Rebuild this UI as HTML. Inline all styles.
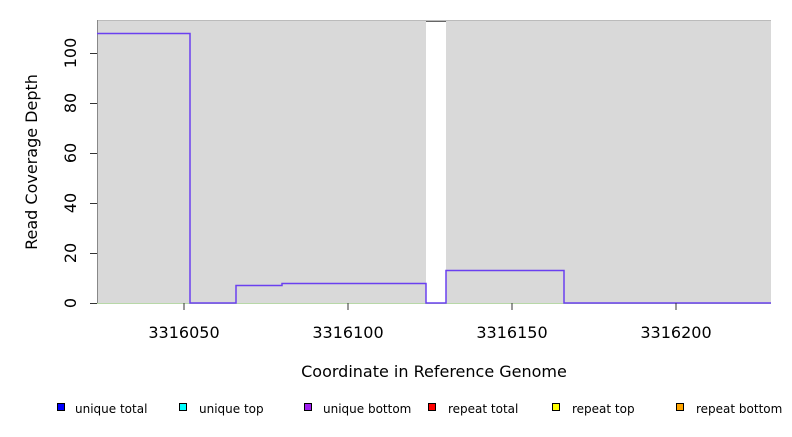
<!DOCTYPE html><html><head><style>body{margin:0;background:#fff}</style></head><body>
<svg width="792" height="432" xmlns="http://www.w3.org/2000/svg" font-family="DejaVu Sans, Liberation Sans, sans-serif">
<rect x="97" y="20" width="674" height="283" fill="#d9d9d9"/>
<rect x="426" y="20" width="20" height="283" fill="#fff"/>
<line x1="97" y1="20.5" x2="771" y2="20.5" stroke="#bbb"/>
<line x1="426" y1="21.5" x2="446" y2="21.5" stroke="#666"/>
<line x1="97.5" y1="20" x2="97.5" y2="303" stroke="#888"/>
<line x1="97" y1="303.5" x2="771" y2="303.5" stroke="#b8d8a8"/>
<polyline fill="none" stroke="#6a40f0" stroke-width="1.5" points="97,33.5 190,33.5 190,303 236,303 236,285.5 282,285.5 282,283.5 426,283.5 426,303 446,303 446,270.5 564,270.5 564,303 771,303"/>
<g stroke="#333">
<line x1="184" y1="303" x2="184" y2="310"/><line x1="348" y1="303" x2="348" y2="310"/><line x1="512" y1="303" x2="512" y2="310"/><line x1="676" y1="303" x2="676" y2="310"/>
<line x1="90" y1="303.5" x2="97" y2="303.5"/><line x1="90" y1="253.5" x2="97" y2="253.5"/><line x1="90" y1="203.5" x2="97" y2="203.5"/><line x1="90" y1="153.5" x2="97" y2="153.5"/><line x1="90" y1="103.5" x2="97" y2="103.5"/><line x1="90" y1="53.5" x2="97" y2="53.5"/>
</g>
<g font-size="16" text-anchor="middle" fill="#000">
<text x="184" y="338">3316050</text><text x="348" y="338">3316100</text><text x="512" y="338">3316150</text><text x="676" y="338">3316200</text>
<g transform="translate(76,0)"><text transform="translate(0,303) rotate(-90)">0</text><text transform="translate(0,253) rotate(-90)">20</text><text transform="translate(0,203) rotate(-90)">40</text><text transform="translate(0,153) rotate(-90)">60</text><text transform="translate(0,103) rotate(-90)">80</text><text transform="translate(0,53) rotate(-90)">100</text></g>
<text x="434" y="377">Coordinate in Reference Genome</text>
<text transform="translate(37,162) rotate(-90)">Read Coverage Depth</text>
</g>
<g font-size="12" fill="#000" stroke-width="1">
<rect x="57.5" y="403.5" width="7" height="7" fill="#0000ff" stroke="#000"/><text x="75" y="413">unique total</text>
<rect x="179.5" y="403.5" width="7" height="7" fill="#00ffff" stroke="#000"/><text x="199" y="413">unique top</text>
<rect x="304.5" y="403.5" width="7" height="7" fill="#a020f0" stroke="#000"/><text x="323" y="413">unique bottom</text>
<rect x="428.5" y="403.5" width="7" height="7" fill="#ff0000" stroke="#000"/><text x="448" y="413">repeat total</text>
<rect x="552.5" y="403.5" width="7" height="7" fill="#ffff00" stroke="#000"/><text x="572" y="413">repeat top</text>
<rect x="676.5" y="403.5" width="7" height="7" fill="#ffa500" stroke="#000"/><text x="696" y="413">repeat bottom</text>
</g>
</svg></body></html>
